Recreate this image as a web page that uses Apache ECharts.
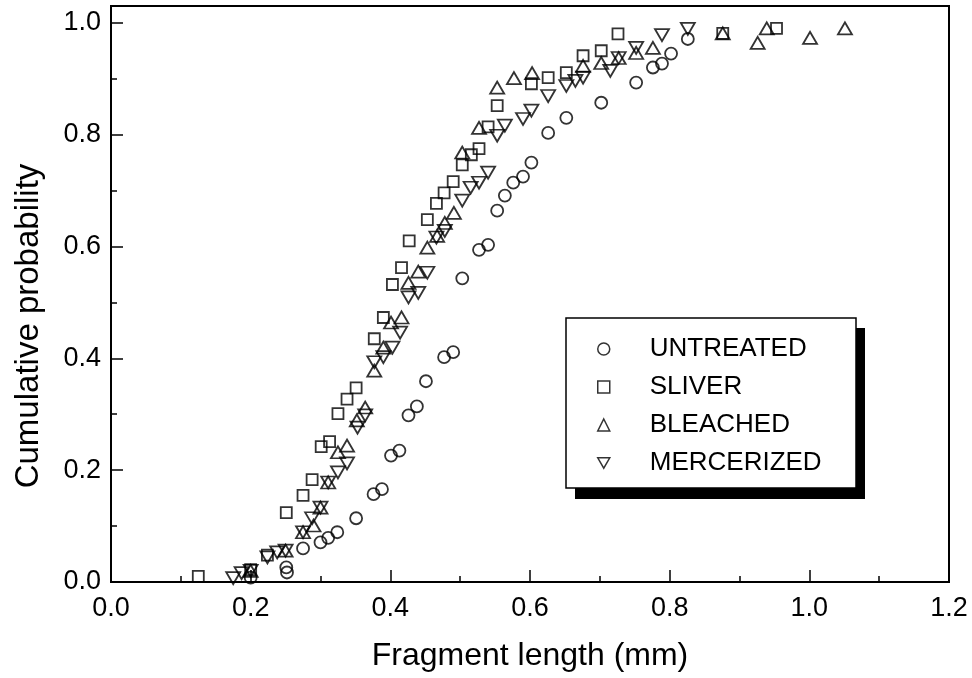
<!DOCTYPE html>
<html>
<head>
<meta charset="utf-8">
<title>Cumulative probability of fragment length</title>
<script src="https://cdn.jsdelivr.net/npm/echarts@6/dist/echarts.min.js"></script>
<style>
    html, body { margin: 0; padding: 0; background: #fff; }
    #main { width: 972px; height: 678px; }
</style>
</head>
<body>
<div id="main"></div>
<script>
var FONT = 'Liberation Sans, Arial, Helvetica, sans-serif';

// series names (legend order)
var seriesNames = ['UNTREATED', 'SLIVER', 'BLEACHED', 'MERCERIZED'];

// axis ticks
var xTicks = [0, 0.2, 0.4, 0.6, 0.8, 1.0, 1.2];
var yTicks = [0, 0.2, 0.4, 0.6, 0.8, 1.0];
var yMinorTicks = [0.1, 0.3, 0.5, 0.7, 0.9];

// [fragment length (mm), cumulative probability]
var untreated = [
    [0.200, 0.008], [0.252, 0.017], [0.251, 0.026], [0.275, 0.060], [0.300, 0.071],
    [0.311, 0.079], [0.324, 0.089], [0.351, 0.114], [0.376, 0.157], [0.388, 0.166],
    [0.401, 0.226], [0.413, 0.235], [0.426, 0.298], [0.438, 0.314], [0.451, 0.359],
    [0.477, 0.402], [0.490, 0.411], [0.503, 0.543], [0.527, 0.594], [0.540, 0.603],
    [0.553, 0.664], [0.564, 0.691], [0.576, 0.714], [0.590, 0.725], [0.602, 0.750],
    [0.626, 0.803], [0.652, 0.830], [0.702, 0.857], [0.752, 0.893], [0.776, 0.920],
    [0.789, 0.927], [0.802, 0.945], [0.826, 0.971]
];
var sliver = [
    [0.125, 0.010], [0.200, 0.022], [0.224, 0.048], [0.251, 0.124], [0.275, 0.155],
    [0.288, 0.183], [0.301, 0.242], [0.313, 0.251], [0.325, 0.301], [0.338, 0.327],
    [0.351, 0.347], [0.377, 0.435], [0.390, 0.473], [0.403, 0.532], [0.416, 0.562],
    [0.427, 0.610], [0.453, 0.648], [0.466, 0.677], [0.477, 0.696], [0.490, 0.716],
    [0.503, 0.746], [0.516, 0.764], [0.527, 0.775], [0.540, 0.814], [0.553, 0.852],
    [0.602, 0.891], [0.626, 0.902], [0.652, 0.911], [0.676, 0.941], [0.702, 0.950],
    [0.726, 0.980], [0.876, 0.981], [0.953, 0.990]
];
var bleached = [
    [0.200, 0.020], [0.250, 0.056], [0.275, 0.089], [0.290, 0.101], [0.300, 0.133],
    [0.311, 0.178], [0.325, 0.232], [0.338, 0.244], [0.352, 0.289], [0.364, 0.312],
    [0.377, 0.378], [0.390, 0.419], [0.401, 0.464], [0.416, 0.473], [0.426, 0.535],
    [0.440, 0.555], [0.453, 0.598], [0.467, 0.619], [0.478, 0.642], [0.491, 0.660],
    [0.503, 0.768], [0.527, 0.812], [0.553, 0.884], [0.577, 0.901], [0.603, 0.910],
    [0.676, 0.923], [0.702, 0.928], [0.727, 0.937], [0.752, 0.946], [0.776, 0.955],
    [0.876, 0.981], [0.926, 0.964], [0.939, 0.990], [1.001, 0.973], [1.051, 0.990]
];
var mercerized = [
    [0.175, 0.007], [0.187, 0.016], [0.200, 0.020], [0.224, 0.044], [0.238, 0.053],
    [0.250, 0.056], [0.275, 0.089], [0.288, 0.114], [0.300, 0.133], [0.311, 0.178],
    [0.325, 0.196], [0.338, 0.212], [0.353, 0.276], [0.364, 0.298], [0.377, 0.393],
    [0.390, 0.402], [0.403, 0.419], [0.414, 0.446], [0.426, 0.509], [0.440, 0.517],
    [0.453, 0.553], [0.466, 0.616], [0.478, 0.628], [0.503, 0.682], [0.515, 0.705],
    [0.527, 0.714], [0.540, 0.732], [0.553, 0.798], [0.564, 0.816], [0.590, 0.828],
    [0.602, 0.843], [0.626, 0.869], [0.652, 0.887], [0.665, 0.896], [0.676, 0.902],
    [0.715, 0.914], [0.727, 0.937], [0.752, 0.955], [0.789, 0.978], [0.826, 0.989]
];

// legend icons, down triangle drawn as a path
var legendIcons = ['circle', 'rect', 'triangle', 'path://M0,0L14,0L7,12Z'];

function fmt(v) {
    return Number(v).toFixed(1);
}

// hollow black markers
function scatter(name, data, symbol, size, rotate) {
    return {
        name: name,
        type: 'scatter',
        data: data,
        symbol: symbol,
        symbolSize: size,
        symbolRotate: rotate || 0,
        itemStyle: { color: 'transparent', borderColor: '#000', borderWidth: 1.8 },
        emphasis: { disabled: true },
        z: 3
    };
}

var chart = echarts.init(document.getElementById('main'));
var option = {
    animation: false,
    backgroundColor: '#fff',
    grid: {
        left: 111, right: 23, top: 6, bottom: 96,
        show: true, borderColor: '#000', borderWidth: 2,
        outerBoundsMode: 'none'
    },
    xAxis: {
        type: 'value',
        min: xTicks[0], max: xTicks[xTicks.length - 1], interval: 0.2,
        name: 'Fragment length (mm)',
        nameLocation: 'middle',
        nameGap: 58,
        nameTextStyle: { fontSize: 32, fontFamily: FONT, color: '#000' },
        axisLine: { lineStyle: { color: '#000', width: 2 } },
        axisTick: { inside: true, length: 12, lineStyle: { color: '#000', width: 1.5 } },
        minorTick: { show: true, splitNumber: 2, length: 6, lineStyle: { color: '#000', width: 1.5 } },
        axisLabel: { fontSize: 27, fontFamily: FONT, color: '#000', margin: 13, formatter: fmt },
        splitLine: { show: false }
    },
    yAxis: [
        {
            type: 'value',
            min: 0, max: 1.03,
            position: 'left',
            name: 'Cumulative probability',
            nameLocation: 'middle',
            nameGap: 66,
            nameTextStyle: { fontSize: 33, fontFamily: FONT, color: '#000', padding: [0, 64, 0, 0] },
            axisLine: { lineStyle: { color: '#000', width: 2 } },
            axisTick: { inside: true, length: 12, customValues: yTicks, lineStyle: { color: '#000', width: 1.5 } },
            axisLabel: { fontSize: 27, fontFamily: FONT, color: '#000', margin: 10, customValues: yTicks, formatter: fmt },
            splitLine: { show: false }
        },
        {
            // minor ticks only
            type: 'value',
            min: 0, max: 1.03,
            position: 'left',
            axisLine: { show: false },
            axisTick: { inside: true, length: 6, customValues: yMinorTicks, lineStyle: { color: '#000', width: 1.5 } },
            axisLabel: { show: false },
            splitLine: { show: false }
        }
    ],
    legend: {
        orient: 'vertical',
        left: 597, top: 336,
        padding: 0,
        itemGap: 12,
        itemWidth: 12, itemHeight: 12,
        selectedMode: false,
        z: 10,
        itemStyle: { color: 'transparent', borderColor: '#000', borderWidth: 1.5 },
        textStyle: { fontSize: 26, lineHeight: 26, fontFamily: FONT, color: '#000', padding: [0, 0, 0, 35] },
        data: seriesNames.map(function (n, i) {
            return { name: n, icon: legendIcons[i] };
        })
    },
    graphic: [
        // legend box with hard shadow
        { type: 'rect', z: 5, shape: { x: 575, y: 328, width: 290, height: 171 }, style: { fill: '#000' } },
        { type: 'rect', z: 6, shape: { x: 566, y: 318, width: 290, height: 170 }, style: { fill: '#fff', stroke: '#000', lineWidth: 1.5 } }
    ],
    series: [
        scatter(seriesNames[0], untreated, 'circle', 12),
        scatter(seriesNames[1], sliver, 'rect', 11),
        scatter(seriesNames[2], bleached, 'triangle', [14, 12]),
        scatter(seriesNames[3], mercerized, 'triangle', [14, 12], 180)
    ]
};
chart.setOption(option);
</script>
</body>
</html>
